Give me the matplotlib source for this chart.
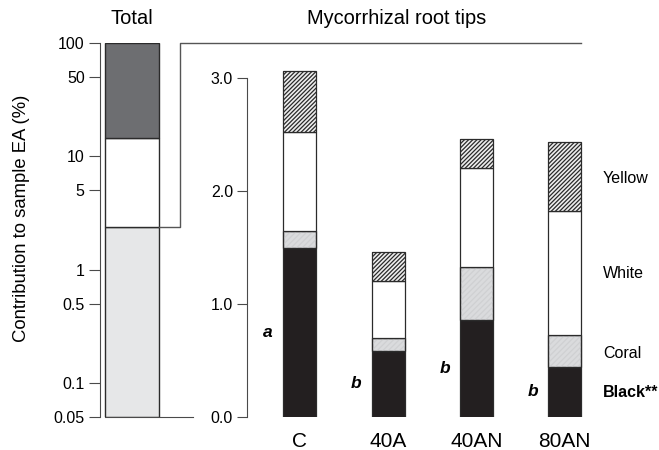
import matplotlib
matplotlib.use("Agg")
import matplotlib.pyplot as plt
import numpy as np

plt.rcParams['font.family'] = ['Liberation Sans', 'DejaVu Sans']
plt.rcParams['hatch.linewidth'] = 0.9

# Total: cumulative boundaries of the stacked log-scale bar (%)
total_bounds = [0.05, 2.38, 14.4, 100]
total_colors = ['#e6e7e8', '#ffffff', '#6d6e71']

# Mycorrhizal root tips: per-treatment values by type (%)
treatments = ['C', '40A', '40AN', '80AN']
black = [1.49, 0.584, 0.858, 0.442]
coral = [0.156, 0.112, 0.469, 0.281]
white = [0.874, 0.508, 0.873, 1.097]
yellow = [0.54, 0.251, 0.26, 0.614]
letters = ['a', 'b', 'b', 'b']
type_labels = ['Yellow', 'White', 'Coral', 'Black**']
type_label_y = [2.11, 1.27, 0.56, 0.21]

W, H = 659, 450
fig = plt.figure(figsize=(W / 100, H / 100), dpi=100)

def px_axes(x0, y_top, x1, y_bot):
    return fig.add_axes([x0 / W, 1 - y_bot / H, (x1 - x0) / W, (y_bot - y_top) / H])

axis_col = '#4a4a4a'
edge_col = '#2b2b2b'

# ---- left panel: total, log scale ----
axL = px_axes(100, 43, 193, 417)
axL.set_yscale('log')
axL.set_ylim(0.05, 100)
axL.set_xlim(0, 93)
for i in range(3):
    axL.bar(32, total_bounds[i + 1] - total_bounds[i], bottom=total_bounds[i],
            width=54, color=total_colors[i], edgecolor=edge_col, linewidth=1.0)
axL.set_yticks([0.05, 0.1, 0.5, 1, 5, 10, 50, 100])
axL.set_yticklabels(['0.05', '0.1', '0.5', '1', '5', '10', '50', '100'])
axL.yaxis.set_minor_locator(matplotlib.ticker.NullLocator())
axL.tick_params(axis='y', length=8, width=0.8, color=axis_col, labelsize=11.5, pad=3)
axL.set_xticks([])
for s in ['top', 'right']:
    axL.spines[s].set_visible(False)
axL.spines['left'].set_color(axis_col)
axL.spines['bottom'].set_color(axis_col)
axL.spines['bottom'].set_bounds(5, 93)
axL.patch.set_alpha(0)
axL.set_ylabel('Contribution to sample EA (%)', fontsize=13.3, va='center')
axL.yaxis.set_label_coords(-0.84, 0.532)

# connector from the total bar to the root-tip panel
axL.plot([59, 80, 80, 481], [total_bounds[1], total_bounds[1], 100, 100],
         color='#555555', linewidth=1.0, clip_on=False)

fig.text(132 / W, 1 - 19 / H, 'Total', ha='center', va='center', fontsize=14.5)
fig.text(397 / W, 1 - 19 / H, 'Mycorrhizal root tips', ha='center', va='center', fontsize=14.4)

# ---- right panel: root tips, linear scale ----
axR = px_axes(247, 43.8, 659, 416.7)
axR.set_ylim(0, 3.3)
axR.set_xlim(-0.6, 4.066)
axR.patch.set_alpha(0)
x = np.arange(len(treatments))
bw = 0.374
b = np.array(black)
c = np.array(coral)
w = np.array(white)
yl = np.array(yellow)

axR.bar(x, b, width=bw, color='#231f20', edgecolor=edge_col, linewidth=0.9)
axR.bar(x, c, bottom=b, width=bw, color='#dadbdd', edgecolor=edge_col, linewidth=0.9)
axR.bar(x, c, bottom=b, width=bw, color='none', edgecolor='#cfd0d2',
        hatch='//////', linewidth=0)
axR.bar(x, c, bottom=b, width=bw, color='none', edgecolor=edge_col, linewidth=0.9)
axR.bar(x, w, bottom=b + c, width=bw, color='white', edgecolor=edge_col, linewidth=0.9)
axR.bar(x, yl, bottom=b + c + w, width=bw, color='#eeeeee', edgecolor='#2a2a2a',
        hatch='////////', linewidth=0)
axR.bar(x, yl, bottom=b + c + w, width=bw, color='none', edgecolor=edge_col, linewidth=0.9)

for xi, bi, let in zip(x, b, letters):
    axR.text(xi - 0.36, bi / 2, let, ha='center', va='center', fontsize=12.5,
             fontweight='bold', fontstyle='italic')

for lab, yy in zip(type_labels, type_label_y):
    axR.text(3.432, yy, lab, ha='left', va='center', fontsize=11.5,
             fontweight='bold' if lab.startswith('Black') else 'normal', clip_on=False)

axR.set_yticks([0, 1, 2, 3])
axR.set_yticklabels(['0.0', '1.0', '2.0', '3.0'])
axR.tick_params(axis='y', length=7, width=0.8, color=axis_col, labelsize=11.5, pad=3)
axR.set_xticks(x)
axR.set_xticklabels(treatments)
axR.tick_params(axis='x', length=0, labelsize=15, pad=11)
for s in ['top', 'right', 'bottom']:
    axR.spines[s].set_visible(False)
axR.spines['left'].set_bounds(0, 3)
axR.spines['left'].set_color(axis_col)

fig.savefig('out.png', dpi=100)
